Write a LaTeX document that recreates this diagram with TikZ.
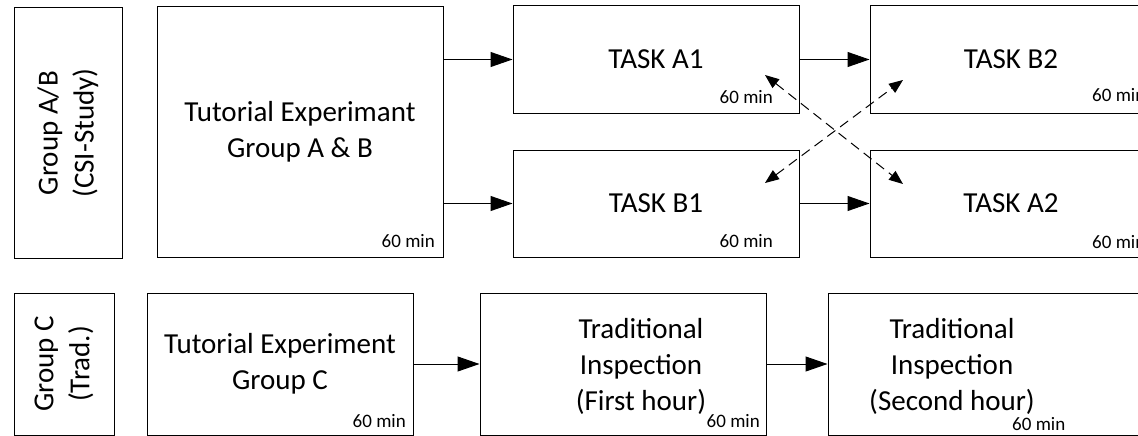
\documentclass[tikz,border=0pt]{standalone}
\usepackage{fontspec}
\setmainfont{Carlito}
\usetikzlibrary{arrows.meta}
\tikzset{
  box/.style={draw,line width=1pt,inner sep=0pt},
  big/.style={font=\fontsize{29}{36}\selectfont,align=center},
  mins/.style={font=\fontsize{19}{22}\selectfont,inner sep=0pt},
  flow/.style={line width=1pt,-{Triangle[length=22pt,width=15pt]}},
  swap/.style={line width=1pt,dash pattern=on 10pt off 6pt,{Triangle[length=14pt,width=11pt]}-{Triangle[length=14pt,width=11pt]}}
}
\begin{document}
\begin{tikzpicture}[x=1pt,y=-1pt]
\useasboundingbox (0,0) rectangle (1138,436);

% Gruppen A/B
\node[box,big,minimum width=250,minimum height=108,rotate=90] (gAB) at (68,133) {Group A/B\\(CSI-Study)};
\node[box,big,minimum width=286,minimum height=250] (tutAB) at (300,132) {Tutorial Experimant\\Group A \& B};
\node[box,big,minimum width=286,minimum height=107] (taskAone) at (656,59.5) {TASK A1};
\node[box,big,minimum width=286,minimum height=107] (taskBone) at (656,203.5) {TASK B1};
\node[box,big,minimum width=282,minimum height=107] (taskBtwo) at (1011,59.5) {TASK B2};
\node[box,big,minimum width=282,minimum height=107] (taskAtwo) at (1011,203.5) {TASK A2};

% Gruppe C
\node[box,big,minimum width=142,minimum height=100,rotate=90] (gC) at (64,364) {Group C\\(Trad.)};
\node[box,big,minimum width=266,minimum height=142] (tutC) at (280,364) {Tutorial Experiment\\Group C};
\node[box,minimum width=286,minimum height=142] (tradone) at (623,364) {};
\node[box,minimum width=330,minimum height=142] (tradtwo) at (993,364) {};
\node[big] (tradonetxt) at (641,366) {Traditional\\Inspection\\(First hour)};
\node[big] (tradtwotxt) at (952,366) {Traditional\\Inspection\\(Second hour)};

% Dauer
\node[mins,anchor=base east] (mtutAB) at (435,247) {60 min};
\node[mins,anchor=base east] (mAone) at (773,103) {60 min};
\node[mins,anchor=base east] (mBone) at (773,247) {60 min};
\node[mins,anchor=base west] (mBtwo) at (1092,102) {60 min};
\node[mins,anchor=base west] (mAtwo) at (1092,248) {60 min};
\node[mins,anchor=base east] (mtutC) at (406,427) {60 min};
\node[mins,anchor=base east] (mtradone) at (760,427) {60 min};
\node[mins,anchor=base west] (mtradtwo) at (1012,430) {60 min};

% Pfeile
\draw[flow] (tutAB.east |- taskAone.west) -- (taskAone.west);
\draw[flow] (tutAB.east |- taskBone.west) -- (taskBone.west);
\draw[flow] (taskAone.east) -- (taskBtwo.west);
\draw[flow] (taskBone.east) -- (taskAtwo.west);
\draw[flow] (tutC.east) -- (tradone.west);
\draw[flow] (tradone.east) -- (tradtwo.west);

% Tausch
\coordinate (xAone) at (765,75);
\coordinate (xAtwo) at (903,184);
\coordinate (xBone) at (765,183);
\coordinate (xBtwo) at (903,80);
\draw[swap] (xAone) -- (xAtwo);
\draw[swap] (xBone) -- (xBtwo);

\end{tikzpicture}
\end{document}
